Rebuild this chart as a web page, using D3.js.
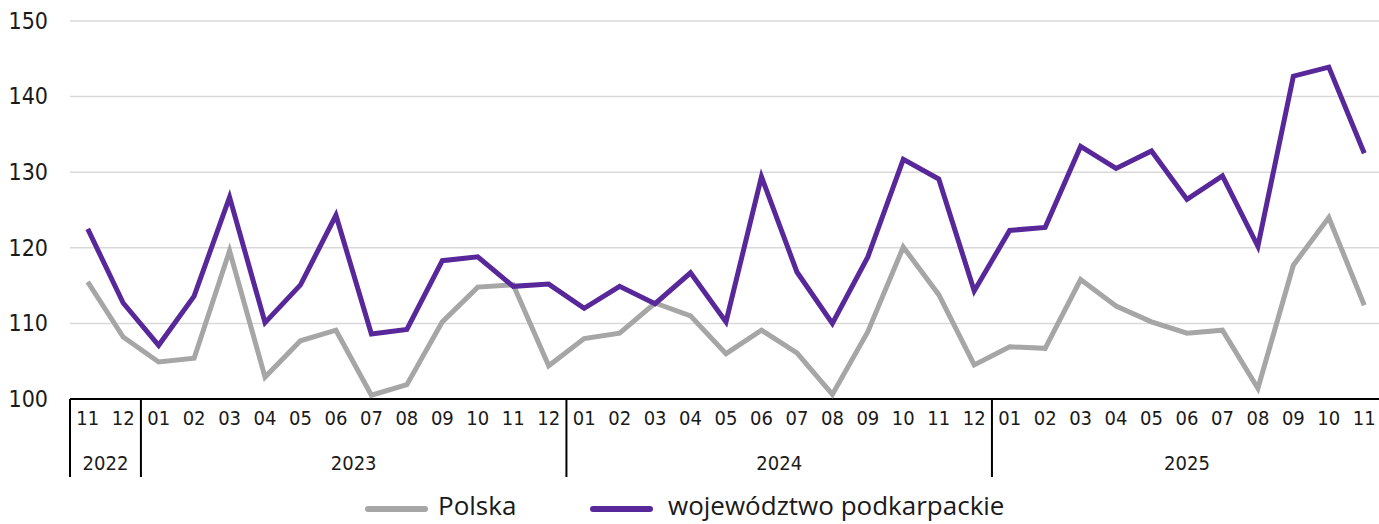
<!DOCTYPE html>
<html>
<head>
<meta charset="utf-8">
<script src="https://cdn.jsdelivr.net/npm/d3@7"></script>
<style>
  body { margin: 0; background: #fff; }
  svg text { font-family: "DejaVu Sans Condensed", "DejaVu Sans", sans-serif; fill: #1a1a1a; }
</style>
</head>
<body>
<svg id="chart"></svg>
<script>
// months from 2022-11 to 2025-11
var months = ["11","12",
  "01","02","03","04","05","06","07","08","09","10","11","12",
  "01","02","03","04","05","06","07","08","09","10","11","12",
  "01","02","03","04","05","06","07","08","09","10","11"]
var years = [{label: "2022", count: 2}, {label: "2023", count: 12}, {label: "2024", count: 12}, {label: "2025", count: 11}]
var yTicks = [100, 110, 120, 130, 140, 150]

var polska = [115.5, 108.2,
  104.9, 105.4, 119.6, 102.9, 107.7, 109.1, 100.5, 101.9, 110.2, 114.8, 115.1, 104.4,
  108.0, 108.7, 112.7, 111.0, 106.0, 109.1, 106.1, 100.6, 108.9, 120.1, 113.8, 104.5,
  106.9, 106.7, 115.8, 112.3, 110.2, 108.7, 109.1, 101.4, 117.7, 124.0, 112.4]
var podkarpackie = [122.5, 112.7,
  107.1, 113.6, 126.7, 110.1, 115.1, 124.3, 108.6, 109.2, 118.3, 118.8, 114.9, 115.2,
  112.0, 114.9, 112.6, 116.7, 110.2, 129.4, 116.8, 110.0, 118.8, 131.7, 129.1, 114.3,
  122.3, 122.7, 133.4, 130.5, 132.8, 126.4, 129.5, 120.2, 142.7, 143.9, 132.5]

var series = [
  {name: "Polska", values: polska, color: "#a6a6a6"},
  {name: "województwo podkarpackie", values: podkarpackie, color: "#58289b"}
]

var screen = {width: 1379, height: 524}
var margins = {top: 21, left: 70, bottom: 125}
var plotRight = 1382

var svg = d3.select("#chart")
    .attr("width", screen.width)
    .attr("height", screen.height)

var idx = d3.range(months.length)

var xScale = d3.scaleBand()
    .domain(idx)
    .range([margins.left, plotRight])

var yScale = d3.scaleLinear()
    .domain([100, 150])
    .range([screen.height - margins.bottom, margins.top])

// gridlines
svg.append("g")
    .selectAll("line")
    .data(yTicks.slice(1))
    .enter()
    .append("line")
    .attr("x1", margins.left)
    .attr("x2", screen.width)
    .attr("y1", function(d){ return yScale(d) })
    .attr("y2", function(d){ return yScale(d) })
    .attr("stroke", "#d9d9d9")
    .attr("stroke-width", 1.5)

// y labels
var yAxis = d3.axisLeft(yScale).tickValues(yTicks).tickSize(0).tickPadding(22)
svg.append("g")
    .attr("transform", "translate(" + margins.left + ",0)")
    .call(yAxis)
    .call(function(g){ g.select(".domain").remove() })
    .selectAll("text")
    .attr("font-size", 23)
    .attr("fill", "#1a1a1a")
    .style("font-family", "'DejaVu Sans Condensed', sans-serif")

// x axis: month labels
var y0 = yScale(100)
var xAxis = d3.axisBottom(xScale).tickSize(0).tickPadding(12)
    .tickFormat(function(i){ return months[i] })
var xg = svg.append("g")
    .attr("transform", "translate(0," + y0 + ")")
    .call(xAxis)
xg.select(".domain")
    .attr("d", "M" + margins.left + ",0H" + screen.width)
    .attr("stroke", "#000")
    .attr("stroke-width", 2)
xg.selectAll("text")
    .attr("font-size", 20)
    .attr("fill", "#1a1a1a")
    .style("font-family", "'DejaVu Sans Condensed', sans-serif")

// year groups with separators
var start = 0
years.forEach(function(yr){
    var x1 = xScale(start)
    var x2 = xScale(start + yr.count - 1) + xScale.bandwidth()
    svg.append("line")
        .attr("x1", x1).attr("x2", x1)
        .attr("y1", y0).attr("y2", y0 + 78)
        .attr("stroke", "#000")
        .attr("stroke-width", 2)
    svg.append("text")
        .attr("x", (x1 + Math.min(x2, plotRight)) / 2)
        .attr("y", y0 + 71)
        .attr("text-anchor", "middle")
        .attr("font-size", 20)
        .text(yr.label)
    start += yr.count
})

// lines
var line = d3.line()
    .x(function(d, i){ return xScale(i) + xScale.bandwidth() / 2 })
    .y(function(d){ return yScale(d) })

series.forEach(function(s){
    svg.append("path")
        .datum(s.values)
        .attr("fill", "none")
        .attr("stroke", s.color)
        .attr("stroke-width", 5)
        .attr("stroke-linejoin", "miter")
        .attr("d", line)
})

// legend
var legendX = [368, 593]
var legendTextX = [70, 75]
series.forEach(function(s, i){
    var g = svg.append("g").attr("transform", "translate(" + legendX[i] + ",509)")
    g.append("line")
        .attr("x1", 0).attr("x2", 57)
        .attr("stroke", s.color)
        .attr("stroke-width", 6)
        .attr("stroke-linecap", "round")
    g.append("text")
        .attr("x", legendTextX[i])
        .attr("y", 6)
        .attr("font-size", 26)
        .style("font-family", "'Open Sans', sans-serif")
        .text(s.name)
})
</script>
</body>
</html>
